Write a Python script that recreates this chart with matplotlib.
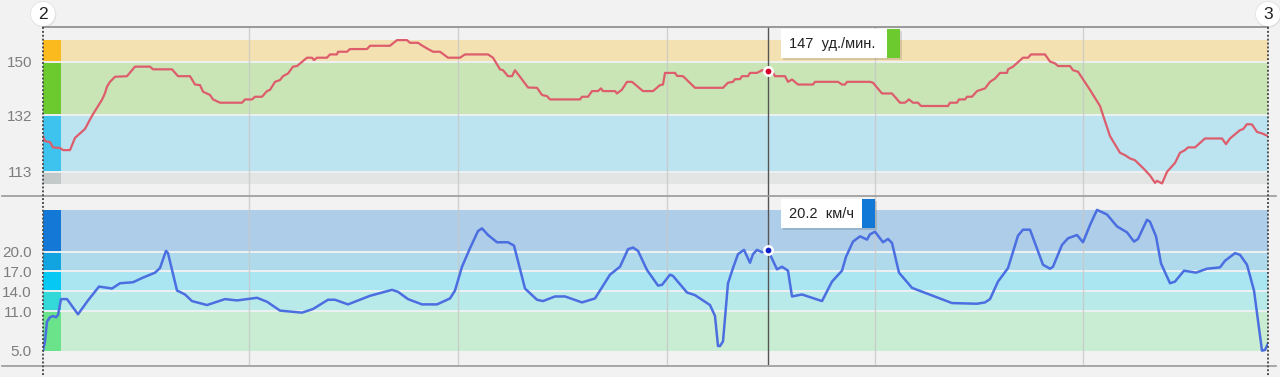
import numpy as np
import matplotlib
matplotlib.use("Agg")
import matplotlib.pyplot as plt
from matplotlib.patches import Rectangle, Circle

plt.rcParams['font.family'] = ['Liberation Sans', 'DejaVu Sans']

W, H = 1280, 377

# heart rate, bpm
hr_t = [0, 2, 7, 10, 17, 20, 27, 32, 42, 49, 55, 59, 62, 64, 67, 72, 84, 92, 107, 110,
        129, 135, 147, 152, 157, 160, 167, 170, 177, 199, 202, 209, 212, 219, 224, 227,
        232, 237, 240, 245, 250, 254, 264, 269, 271, 274, 284, 287, 294, 295, 304, 307,
        324, 327, 347, 354, 364, 367, 375, 379, 384, 390, 397, 405, 417, 422, 445, 450,
        457, 460, 465, 469, 472, 477, 485, 494, 499, 504, 507, 537, 539, 545, 549, 555,
        558, 560, 572, 574, 579, 584, 589, 600, 610, 617, 620, 622, 632, 634, 640, 652,
        680, 685, 690, 692, 697, 699, 705, 707, 714, 719, 725, 729, 732, 742, 745, 749,
        755, 770, 772, 795, 799, 802, 804, 827, 830, 839, 849, 857, 862, 866, 870, 875,
        878, 905, 907, 914, 916, 922, 924, 929, 934, 942, 947, 952, 957, 964, 965, 970,
        980, 985, 988, 1002, 1007, 1012, 1015, 1027, 1030, 1035, 1047, 1057, 1060, 1067,
        1077, 1082, 1087, 1092, 1100, 1107, 1112, 1114, 1119, 1124, 1132, 1137, 1142,
        1145, 1152, 1162, 1179, 1183, 1187, 1197, 1200, 1204, 1209, 1214, 1219, 1225]
hr_bpm = [125.0, 123.3, 123.0, 121.2, 121.0, 120.3, 120.3, 124.4, 127.4, 131.8, 135.0,
          137.2, 139.4, 141.6, 143.2, 144.9, 145.1, 148.3, 148.3, 147.4, 147.4, 145.1,
          145.1, 142.3, 142.1, 139.9, 138.8, 137.3, 136.2, 136.2, 137.3, 137.3, 138.2,
          138.2, 140.1, 140.5, 143.2, 143.8, 145.1, 146.0, 148.3, 148.5, 151.3, 151.3,
          150.5, 151.3, 151.3, 152.4, 152.4, 153.3, 153.3, 154.2, 154.2, 155.3, 155.3,
          157.2, 157.2, 156.3, 156.3, 155.4, 154.4, 153.3, 153.3, 151.3, 151.3, 152.4,
          152.4, 151.3, 147.4, 147.1, 145.1, 145.1, 147.1, 144.9, 141.3, 141.2, 138.8,
          138.4, 137.3, 137.3, 138.2, 138.2, 140.1, 140.1, 141.0, 140.1, 140.1, 139.3,
          140.6, 143.2, 143.2, 140.1, 140.1, 142.1, 142.3, 146.2, 146.2, 145.2, 145.1,
          141.2, 141.2, 142.9, 143.2, 144.1, 144.1, 145.1, 145.1, 146.2, 146.2, 147.1,
          147.0, 146.9, 145.1, 145.1, 143.2, 144.0, 142.3, 142.3, 143.2, 143.2, 142.3,
          142.3, 143.2, 143.2, 142.9, 139.3, 139.3, 136.2, 136.2, 137.3, 136.2, 136.2,
          135.1, 135.1, 136.2, 136.2, 137.3, 137.3, 138.2, 138.2, 140.1, 141.0, 143.2,
          144.3, 146.2, 146.2, 147.4, 148.3, 151.3, 151.3, 152.4, 152.4, 150.0, 149.4,
          148.5, 148.5, 147.1, 146.6, 140.5, 135.1, 132.0, 125.0, 119.4, 118.6, 117.5,
          116.9, 114.3, 111.8, 109.3, 110.0, 109.1, 113.0, 116.0, 119.4, 120.3, 121.2,
          121.2, 124.2, 124.2, 122.3, 124.2, 127.0, 127.3, 129.0, 128.9, 126.4, 125.9,
          125.0]

# speed, km/h
speed_t = [0, 2, 4, 7, 10, 13, 15, 18, 24, 35, 45, 56, 69, 77, 90, 100, 112, 117, 123,
           125, 134, 142, 149, 164, 182, 194, 214, 224, 237, 259, 270, 285, 292, 305, 327,
           349, 355, 365, 379, 394, 407, 412, 419, 427, 435, 439, 445, 454, 465, 471, 482,
           494, 500, 512, 522, 539, 552, 567, 577, 585, 590, 595, 604, 615, 619, 627, 630,
           644, 652, 667, 672, 675, 677, 680, 685, 690, 695, 701, 707, 710, 714, 719, 725,
           734, 739, 745, 749, 759, 779, 789, 799, 803, 810, 817, 824, 827, 832, 840, 845,
           849, 856, 869, 909, 934, 942, 947, 955, 965, 975, 980, 987, 1000, 1007, 1010,
           1019, 1025, 1034, 1040, 1047, 1054, 1064, 1074, 1084, 1091, 1095, 1104, 1107,
           1113, 1118, 1127, 1132, 1141, 1153, 1164, 1177, 1182, 1192, 1197, 1204, 1211,
           1219, 1222, 1225]
speed_kmh = [5.0, 6.4, 9.4, 10.05, 10.25, 10.05, 10.4, 12.8, 12.8, 10.5, 12.6, 14.7, 14.4,
             15.2, 15.35, 16.05, 16.8, 17.5, 20.1, 19.75, 14.1, 13.5, 12.5, 11.9, 12.8,
             12.6, 13.0, 12.4, 11.06, 10.75, 11.3, 12.7, 12.7, 12.0, 13.3, 14.2, 13.9,
             12.8, 12.0, 12.0, 12.9, 14.1, 17.7, 20.5, 23.1, 23.5, 22.5, 21.4, 21.4, 20.9,
             14.4, 12.7, 12.5, 13.2, 13.2, 12.3, 12.9, 16.5, 17.7, 20.35, 20.6, 20.1, 17.2,
             14.85, 14.95, 16.5, 16.3, 13.8, 13.4, 11.9, 10.25, 5.7, 5.7, 6.4, 15.2, 17.5,
             19.6, 20.25, 18.3, 19.6, 20.25, 19.9, 20.2, 17.3, 17.7, 17.1, 13.2, 13.5,
             12.5, 15.45, 17.1, 19.2, 21.5, 22.3, 21.8, 22.6, 23.0, 21.4, 21.9, 21.3,
             16.8, 14.5, 12.2, 12.1, 12.3, 12.8, 15.45, 17.5, 22.4, 23.3, 23.3, 18.0,
             17.4, 17.7, 21.0, 22.0, 22.5, 21.4, 24.0, 26.3, 25.6, 23.8, 22.9, 21.5, 21.9,
             24.8, 24.5, 22.3, 18.2, 15.2, 15.45, 17.1, 16.8, 17.4, 17.6, 18.6, 19.75,
             19.5, 18.0, 14.1, 5.0, 5.1, 6.1]

hr_zones = [109.0, 113.0, 132.0, 150.0, 157.2]
hr_zone_colors = ['#c3c8c8', '#3ec3ee', '#6cc92e', '#fbbb1f']
hr_ticks = [150, 132, 113]

speed_zones = [5.0, 11.0, 14.0, 17.0, 20.0, 26.3]
speed_zone_colors = ['#6be38a', '#33d8d8', '#06c8f4', '#12a4e0', '#1378d6']
speed_ticks = [20.0, 17.0, 14.0, 11.0, 5.0]

grid_t = [206, 415, 624, 832, 1040]
t_end = 1225
strip_w = 18
cursor_t = 725
cursor_hr = 147
cursor_speed = 20.2

bg = '#f2f2f2'
fig = plt.figure(figsize=(W / 100, H / 100), dpi=100, facecolor=bg)


def px_axes(x0, y0, x1, y1):
    return fig.add_axes([x0 / W, 1 - y1 / H, (x1 - x0) / W, (y1 - y0) / H])


def zone_panel(ax, zones, colors, ticks, fmt, ylim):
    ax.set_facecolor(bg)
    for lo, hi, c in zip(zones[:-1], zones[1:], colors):
        ax.axhspan(lo, hi, color=c, alpha=0.3, lw=0, zorder=1)
        ax.fill_between([0, strip_w], lo, hi, color=c, lw=0, zorder=2)
    for z in zones[1:-1]:
        ax.axhline(z, color='#eef1f2', lw=1.4, zorder=3)
    for g in grid_t:
        ax.axvline(g, color='#c8c8c8', lw=1, alpha=0.8, zorder=3)
    ax.axvline(cursor_t, color='#555555', lw=1, zorder=4)
    ax.set_xlim(0, t_end)
    ax.set_ylim(*ylim)
    ax.set_xticks([])
    ax.set_yticks(ticks)
    ax.set_yticklabels([fmt.format(v) for v in ticks])
    ax.tick_params(axis='y', length=0, pad=8, labelsize=11, labelcolor='#7d7d7d')
    for s in ax.spines.values():
        s.set_visible(False)


ax_hr = px_axes(43, 27, 1268, 196)
zone_panel(ax_hr, hr_zones, hr_zone_colors, hr_ticks, '{:.0f}', (104.9, 161.6))
ax_hr.plot(hr_t, hr_bpm, color='#dd5d6c', lw=1.6, zorder=5)
ax_hr.plot(cursor_t, cursor_hr, 'o', ms=6, mfc='#d6002a', mec='white', mew=1.8, zorder=6)

ax_sp = px_axes(43, 196, 1268, 365)
zone_panel(ax_sp, speed_zones, speed_zone_colors, speed_ticks, '{:.1f}', (2.83, 28.4))
ax_sp.plot(speed_t, speed_kmh, color='#4b6ee0', lw=1.8, zorder=5)
ax_sp.plot(cursor_t, cursor_speed, 'o', ms=6, mfc='#1020c8', mec='white', mew=1.8, zorder=6)

# overlay in pixel coordinates for frame, lap markers and tooltips
ov = fig.add_axes([0, 0, 1, 1], zorder=10)
ov.set_xlim(0, W)
ov.set_ylim(H, 0)
ov.axis('off')
ov.patch.set_alpha(0)

ov.plot([43, 1268], [27, 27], color='#8a8a8a', lw=1.2)
ov.plot([2, 1276], [196, 196], color='#9a9a9a', lw=1.2)
ov.plot([2, 1276], [365.5, 365.5], color='#9a9a9a', lw=1.2)
for x in (43, 1268):
    ov.plot([x, x], [27, 377], color='#505050', lw=1.4, ls=(0, (1, 1)))

for x, lab in ((43, '2'), (1268, '3')):
    ov.add_patch(Circle((x + 0.8, 15), 12.5, fc='#000000', alpha=0.08, ec='none'))
    ov.add_patch(Circle((x, 14), 12.5, fc='white', ec='#e2e2e2', lw=0.6))
    ov.text(x, 14.5, lab, ha='center', va='center', fontsize=12.5, color='#222222')


def tooltip(x0, y0, w, h, sw, color, label):
    ov.add_patch(Rectangle((x0 + 1.5, y0 + 2), w + sw, h, fc='#000000', alpha=0.12, ec='none'))
    ov.add_patch(Rectangle((x0, y0), w, h, fc='white', ec='none'))
    ov.add_patch(Rectangle((x0 + w, y0), sw, h, fc=color, ec='none'))
    ov.text(x0 + 8, y0 + h / 2 + 0.5, label, ha='left', va='center', fontsize=10.5,
            color='#222222')


tooltip(781, 29, 106, 29, 13, '#6cc92e', f'{cursor_hr}  уд./мин.')
tooltip(781, 199, 81, 29, 13, '#1278d8', f'{cursor_speed}  км/ч')

fig.savefig('out.png', dpi=100, facecolor=bg)
